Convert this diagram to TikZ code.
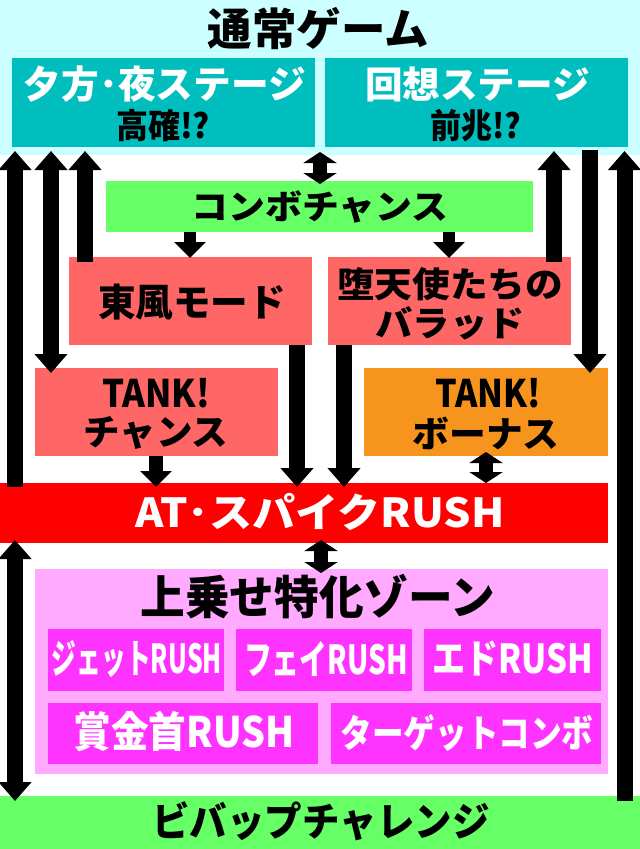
\documentclass[tikz,border=0pt]{standalone}
\usepackage{fontspec}
\setmainfont{Noto Sans CJK JP}[BoldFont={Noto Sans CJK JP Black}]
\usepackage{graphicx}
\usetikzlibrary{arrows.meta}
\definecolor{bgcyan}{RGB}{204,255,255}
\definecolor{tealbox}{RGB}{0,190,190}
\definecolor{greenbox}{RGB}{102,255,102}
\definecolor{salmon}{RGB}{255,102,102}
\definecolor{orangebox}{RGB}{247,148,29}
\definecolor{redbar}{RGB}{255,0,0}
\definecolor{pinkzone}{RGB}{255,170,255}
\definecolor{magbox}{RGB}{255,51,255}
\newcommand\tx[3]{{\fontsize{#1pt}{#1pt}\selectfont\bfseries\resizebox{#2pt}{\height}{#3}}}
\begin{document}
\begin{tikzpicture}[x=1pt,y=-1pt,
  box/.style={draw=none, inner sep=0pt, outer sep=0pt},
  lbl/.style={inner sep=0pt, outer sep=0pt, anchor=center},
  arr/.style={line width=16pt, -{Triangle[width=32pt,length=19pt]}},
  darr/.style={line width=16pt, {Triangle[width=32pt,length=19pt]}-{Triangle[width=32pt,length=19pt]}},
  sdarr/.style={line width=14pt, {Triangle[width=33pt,length=11pt]}-{Triangle[width=33pt,length=11pt]}},
  sarr/.style={line width=12pt, -{Triangle[width=31pt,length=16pt]}}]
\useasboundingbox (0,0) rectangle (640,849);
\fill[white] (0,0) rectangle (640,849);
% boxes
\node[box, fill=bgcyan, minimum width=640pt, minimum height=155pt] (normal) at (320,77.5) {};
\node[box, fill=tealbox, minimum width=303pt, minimum height=89pt] (teal1) at (163.5,102.5) {};
\node[box, fill=tealbox, minimum width=303pt, minimum height=89pt] (teal2) at (476.5,102.5) {};
\node[box, fill=greenbox, minimum width=427pt, minimum height=51pt] (combo) at (319.5,206.5) {};
\node[box, fill=salmon, minimum width=243pt, minimum height=88pt] (tohu) at (190.5,301) {};
\node[box, fill=salmon, minimum width=243pt, minimum height=88pt] (daten) at (449.5,301) {};
\node[box, fill=salmon, minimum width=243pt, minimum height=88pt] (tankc) at (156.5,412) {};
\node[box, fill=orangebox, minimum width=244pt, minimum height=88pt] (tankb) at (486,412) {};
\node[box, fill=redbar, minimum width=608pt, minimum height=60pt] (at) at (304,513) {};
\node[box, fill=pinkzone, minimum width=573pt, minimum height=205pt] (zone) at (321.5,671.5) {};
\node[box, fill=magbox, minimum width=176pt, minimum height=62pt] (jet) at (136,660) {};
\node[box, fill=magbox, minimum width=176pt, minimum height=62pt] (fei) at (324,660) {};
\node[box, fill=magbox, minimum width=177pt, minimum height=62pt] (ed) at (512.5,660) {};
\node[box, fill=magbox, minimum width=270pt, minimum height=61pt] (shokin) at (183,733.5) {};
\node[box, fill=magbox, minimum width=270pt, minimum height=61pt] (target) at (466,733.5) {};
\node[box, fill=greenbox, minimum width=640pt, minimum height=53pt] (bebop) at (320,822.5) {};
% texts
\node[lbl] (t0) at (318.5,29) {\tx{44}{221}{通常ゲーム}};
\node[lbl, text=white] (t1a) at (165,84) {\tx{38}{282}{夕方･夜ステージ}};
\node[lbl] (t1b) at (163,126) {\tx{34}{94}{高確!?}};
\node[lbl, text=white] (t2a) at (477.5,84) {\tx{37}{225}{回想ステージ}};
\node[lbl] (t2b) at (476,126) {\tx{34}{91}{前兆!?}};
\node[lbl] (t3) at (320,207) {\tx{34}{257}{コンボチャンス}};
\node[lbl] (t4) at (192,302) {\tx{38}{188}{東風モード}};
\node[lbl] (t5a) at (450,284) {\tx{35}{226}{堕天使たちの}};
\node[lbl] (t5b) at (450,323) {\tx{35}{149}{バラッド}};
\node[lbl] (t6a) at (156,393) {\tx{38}{108}{TANK!}};
\node[lbl] (t6b) at (156,433) {\tx{36}{145}{チャンス}};
\node[lbl] (t7a) at (488,393) {\tx{38}{106}{TANK!}};
\node[lbl] (t7b) at (486,433) {\tx{36}{147}{ボーナス}};
\node[lbl, text=white] (t8) at (320,512) {\tx{40}{369}{AT･スパイクRUSH}};
\node[lbl] (t9) at (318,597) {\tx{46}{355}{上乗せ特化ゾーン}};
\node[lbl, text=white] (t10) at (137,659) {\tx{40}{170}{ジェットRUSH}};
\node[lbl, text=white] (t11) at (326,659) {\tx{40}{164}{フェイRUSH}};
\node[lbl, text=white] (t12) at (513,659) {\tx{40}{161}{エドRUSH}};
\node[lbl, text=white] (t13) at (184,732) {\tx{42}{221}{賞金首RUSH}};
\node[lbl, text=white] (t14) at (467,733) {\tx{38}{253}{ターゲットコンボ}};
\node[lbl] (t15) at (321,821) {\tx{40}{337}{ビバップチャレンジ}};
% x positions
\coordinate (xa) at (15,0);
\coordinate (xb) at (51,0);
\coordinate (xc) at (85,0);
\coordinate (xd) at (554,0);
\coordinate (xe) at (590,0);
\coordinate (xf) at (624.5,0);
\coordinate (xg) at (320,0);
\coordinate (xh) at (190,0);
\coordinate (xi) at (449,0);
\coordinate (xj) at (156,0);
\coordinate (xk) at (297,0);
\coordinate (xl) at (344,0);
\coordinate (xm) at (486,0);
\coordinate (xn) at (321,0);
% arrows
\draw[arr, shorten <=-4pt, shorten >=4pt] (at.north -| xa) -- (teal1.south -| xa);
\draw[darr, shorten <=4pt, shorten >=-5pt] (teal1.south -| xb) -- (tankc.north -| xb);
\draw[arr, shorten <=-5pt, shorten >=4pt] (tohu.north -| xc) -- (teal1.south -| xc);
\draw[arr, shorten <=-5pt, shorten >=4pt] (daten.north -| xd) -- (teal2.south -| xd);
\draw[arr, shorten <=3pt, shorten >=-5pt] (teal2.south -| xe) -- (tankb.north -| xe);
\draw[arr, shorten <=-5pt, shorten >=4pt] (bebop.north -| xf) -- (teal2.south -| xf);
\draw[sdarr, shorten <=-3pt, shorten >=-3pt] (normal.south -| xg) -- (combo.north -| xg);
\draw[sarr, shorten >=-1pt] (combo.south -| xh) -- (tohu.north -| xh);
\draw[sarr, shorten >=-1pt] (combo.south -| xi) -- (daten.north -| xi);
\draw[sarr, line width=14pt, shorten >=-4pt] (tankc.south -| xj) -- (at.north -| xj);
\draw[arr, shorten >=-4pt] (tohu.south -| xk) -- (at.north -| xk);
\draw[arr, shorten >=-4pt] (daten.south -| xl) -- (at.north -| xl);
\draw[sdarr, shorten <=-4pt] (tankb.south -| xm) -- (at.north -| xm);
\draw[sdarr, shorten <=-3pt, shorten >=-4pt] (at.south -| xn) -- (zone.north -| xn);
\draw[darr, shorten <=-3pt, shorten >=-5pt] (at.south -| xa) -- (bebop.north -| xa);
\end{tikzpicture}
\end{document}
